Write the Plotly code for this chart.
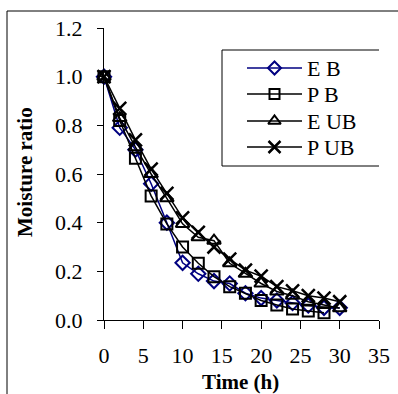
import plotly.graph_objects as go

t = [0, 2, 4, 6, 8, 10, 12, 14, 16, 18, 20, 22, 24, 26, 28, 30]
t_pb = [0, 2, 4, 6, 8, 10, 12, 14, 16, 18, 20, 22, 24, 26, 28]
eb = [1.0, 0.79, 0.70, 0.56, 0.40, 0.235, 0.19, 0.16, 0.15, 0.11, 0.09, 0.08, 0.07, 0.06, 0.05, 0.05]
pb = [1.0, 0.82, 0.665, 0.51, 0.395, 0.30, 0.233, 0.178, 0.137, 0.11, 0.08, 0.062, 0.045, 0.037, 0.03]
eub = [1.0, 0.83, 0.71, 0.60, 0.50, 0.395, 0.34, 0.326, 0.233, 0.19, 0.15, 0.117, 0.10, 0.075, 0.062, 0.048]
pub = [1.0, 0.87, 0.74, 0.62, 0.52, 0.42, 0.36, 0.30, 0.25, 0.205, 0.18, 0.137, 0.12, 0.10, 0.09, 0.075]

names = ["E B", "P B", "E UB", "P UB"]
x_ticks = [0, 5, 10, 15, 20, 25, 30, 35]
y_ticks = [0.0, 0.2, 0.4, 0.6, 0.8, 1.0, 1.2]

FONT = "Liberation Serif, Times New Roman, serif"
NAVY = "#000080"

styles = [
    dict(color=NAVY, symbol="diamond-open", size=11, mlw=2),
    dict(color="black", symbol="square-open", size=11, mlw=2),
    dict(color="black", symbol="triangle-up-open", size=12, mlw=2),
    dict(color="black", symbol="x-thin-open", size=13, mlw=2.5),
]
series = [(t, eb), (t_pb, pb), (t, eub), (t, pub)]

L, R, T, B = 104, 19, 28, 74
W, H = 398, 394
pw, ph = W - L - R, H - T - B

fig = go.Figure()
for (xs, ys), nm, st in zip(series, names, styles):
    fig.add_trace(go.Scatter(
        x=xs, y=ys, name=nm, mode="lines+markers", showlegend=False,
        line=dict(color=st["color"], width=1.5),
        marker=dict(symbol=st["symbol"], size=st["size"], color=st["color"],
                    line=dict(width=st["mlw"], color=st["color"])),
        cliponaxis=False))

# manual legend drawn on a pixel-based overlay axis
leg_rows = [68, 94, 121, 147]
leg_line = (247, 302)
leg_box = (222, 50, 380, 166)
shapes = []
annotations = []
for row, nm, st in zip(leg_rows, names, styles):
    fig.add_trace(go.Scatter(
        x=[(leg_line[0] + leg_line[1]) / 2], y=[row], xaxis="x2", yaxis="y2",
        mode="markers", showlegend=False, hoverinfo="skip", cliponaxis=False,
        marker=dict(symbol=st["symbol"], size=st["size"] - 1, color=st["color"],
                    line=dict(width=st["mlw"], color=st["color"]))))
    shapes.append(dict(type="line", xref="x2", yref="y2", x0=leg_line[0], x1=leg_line[1],
                       y0=row, y1=row, line=dict(color=st["color"], width=1.5), layer="below"))
    annotations.append(dict(xref="x2", yref="y2", x=305, y=row, text=nm, showarrow=False,
                            xanchor="left", yanchor="middle",
                            font=dict(family=FONT, size=22, color="black")))
shapes.insert(0, dict(type="rect", xref="x2", yref="y2", x0=leg_box[0], y0=leg_box[1],
                      x1=leg_box[2], y1=leg_box[3], line=dict(color="black", width=1),
                      fillcolor="white", layer="below"))


def px(xp):
    return (xp - L) / pw


def py(yp):
    return (H - B - yp) / ph


shapes += [
    dict(type="line", xref="paper", yref="paper", x0=px(7), x1=px(400), y0=py(11), y1=py(11),
         line=dict(color="black", width=1)),
    dict(type="line", xref="paper", yref="paper", x0=px(7), x1=px(7), y0=py(11), y1=py(400),
         line=dict(color="black", width=1)),
]
annotations += [
    dict(xref="paper", yref="paper", x=px(240), y=py(382), text="<b>Time (h)</b>", showarrow=False,
         xanchor="center", yanchor="middle", font=dict(family=FONT, size=21, color="black")),
    dict(xref="paper", yref="paper", x=px(25), y=py(172), text="<b>Moisture ratio</b>", showarrow=False,
         textangle=-90, xanchor="center", yanchor="middle", font=dict(family=FONT, size=21, color="black")),
]

fig.update_layout(
    width=W, height=H,
    margin=dict(l=L, r=R, t=T, b=B, autoexpand=False),
    paper_bgcolor="white", plot_bgcolor="rgba(0,0,0,0)",
    font=dict(family=FONT, size=22, color="black"),
    showlegend=False,
    hovermode=False,
    xaxis=dict(range=[0, 35], tickvals=x_ticks, ticktext=[str(v) for v in x_ticks],
               showgrid=False, zeroline=False, showline=True, linecolor="black", linewidth=1,
               ticks="outside", ticklen=8, tickcolor="black", automargin=False,
               ticklabelstandoff=8,
               tickfont=dict(family=FONT, size=22, color="black")),
    yaxis=dict(range=[0, 1.2], tickvals=y_ticks, ticktext=[f"{v:.1f}" for v in y_ticks],
               showgrid=False, zeroline=False, showline=True, linecolor="black", linewidth=1,
               ticks="outside", ticklen=6, tickcolor="black", automargin=False,
               ticklabelstandoff=10,
               tickfont=dict(family=FONT, size=22, color="black")),
    xaxis2=dict(overlaying="x", range=[L, W - R], visible=False, showgrid=False, zeroline=False),
    yaxis2=dict(overlaying="y", range=[H - B, T], visible=False, showgrid=False, zeroline=False),
    shapes=shapes,
    annotations=annotations,
)

fig.write_html("out.html",
               config={"displayModeBar": False, "staticPlot": True},
               post_script="document.body.style.margin='0';document.body.style.padding='0';"
                           "document.body.style.overflow='hidden';")
